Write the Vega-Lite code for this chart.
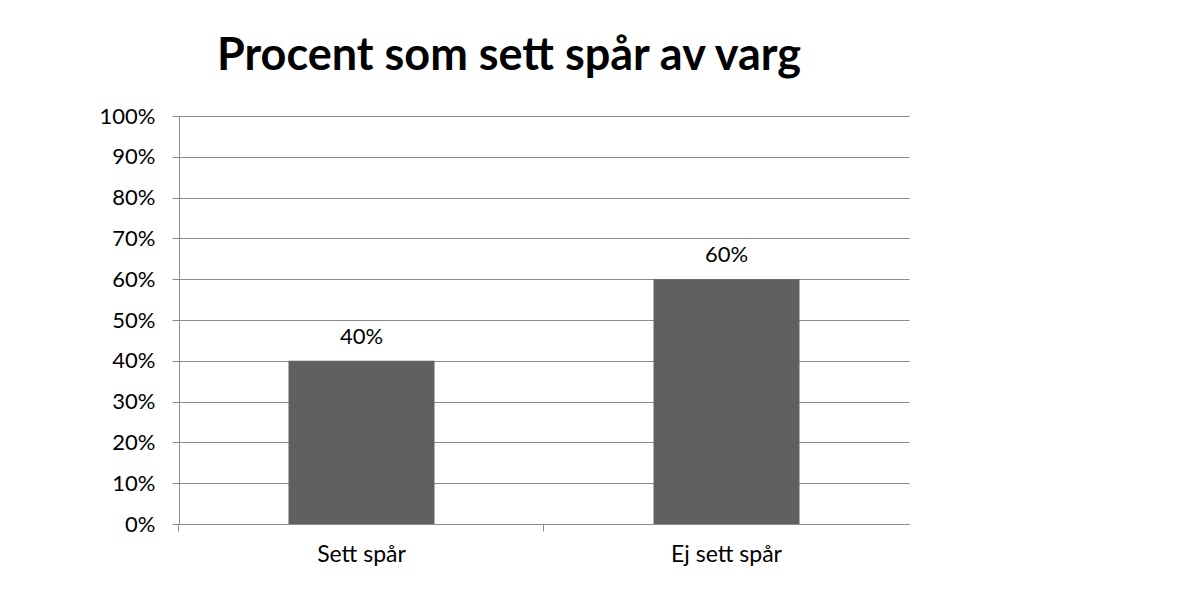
{
  "$schema": "https://vega.github.io/schema/vega-lite/v6.json",
  "autosize": "none",
  "width": 730,
  "height": 408,
  "padding": {"left": 179, "top": 116, "right": 289, "bottom": 77},
  "background": "white",
  "title": {
    "text": "Procent som sett spår av varg",
    "font": "Lato",
    "fontSize": 45,
    "fontWeight": "bold",
    "color": "black",
    "anchor": "middle",
    "dx": -35,
    "offset": 26
  },
  "config": {
    "view": {"stroke": null},
    "axis": {
      "labelFont": "Lato",
      "labelFontSize": 22,
      "labelColor": "black",
      "domainColor": "#8c8c8c",
      "tickColor": "#8c8c8c",
      "gridColor": "#8c8c8c",
      "tickSize": 7
    }
  },
  "data": {
    "values": [
      {"kategori": "Sett spår", "andel": 0.40},
      {"kategori": "Ej sett spår", "andel": 0.60}
    ]
  },
  "encoding": {
    "x": {
      "field": "kategori",
      "type": "nominal",
      "sort": null,
      "scale": {"paddingInner": 0.6, "paddingOuter": 0.3}
    },
    "y": {
      "field": "andel",
      "type": "quantitative",
      "scale": {"domain": [0, 1], "nice": false},
      "axis": {
        "title": null,
        "format": ".0%",
        "values": [0, 0.1, 0.2, 0.3, 0.4, 0.5, 0.6, 0.7, 0.8, 0.9, 1],
        "grid": true,
        "labelPadding": 17
      }
    }
  },
  "layer": [
    {
      "mark": {"type": "bar", "color": "#606060"},
      "encoding": {
        "x": {
          "field": "kategori",
          "type": "nominal",
          "sort": null,
          "axis": {"title": null, "orient": "bottom", "labelAngle": 0, "ticks": false, "labelPadding": 19, "labelFontSize": 23, "domain": true}
        }
      }
    },
    {
      "mark": {"type": "text", "baseline": "bottom", "dy": -12, "font": "Lato", "fontSize": 22, "color": "black"},
      "encoding": {
        "text": {"field": "andel", "type": "quantitative", "format": ".0%"},
        "x": {
          "field": "kategori",
          "type": "nominal",
          "sort": null,
          "axis": {"title": null, "orient": "bottom", "labels": false, "domain": false, "ticks": true, "bandPosition": -0.7534, "grid": false}
        }
      }
    }
  ],
  "resolve": {"axis": {"x": "independent"}}
}
